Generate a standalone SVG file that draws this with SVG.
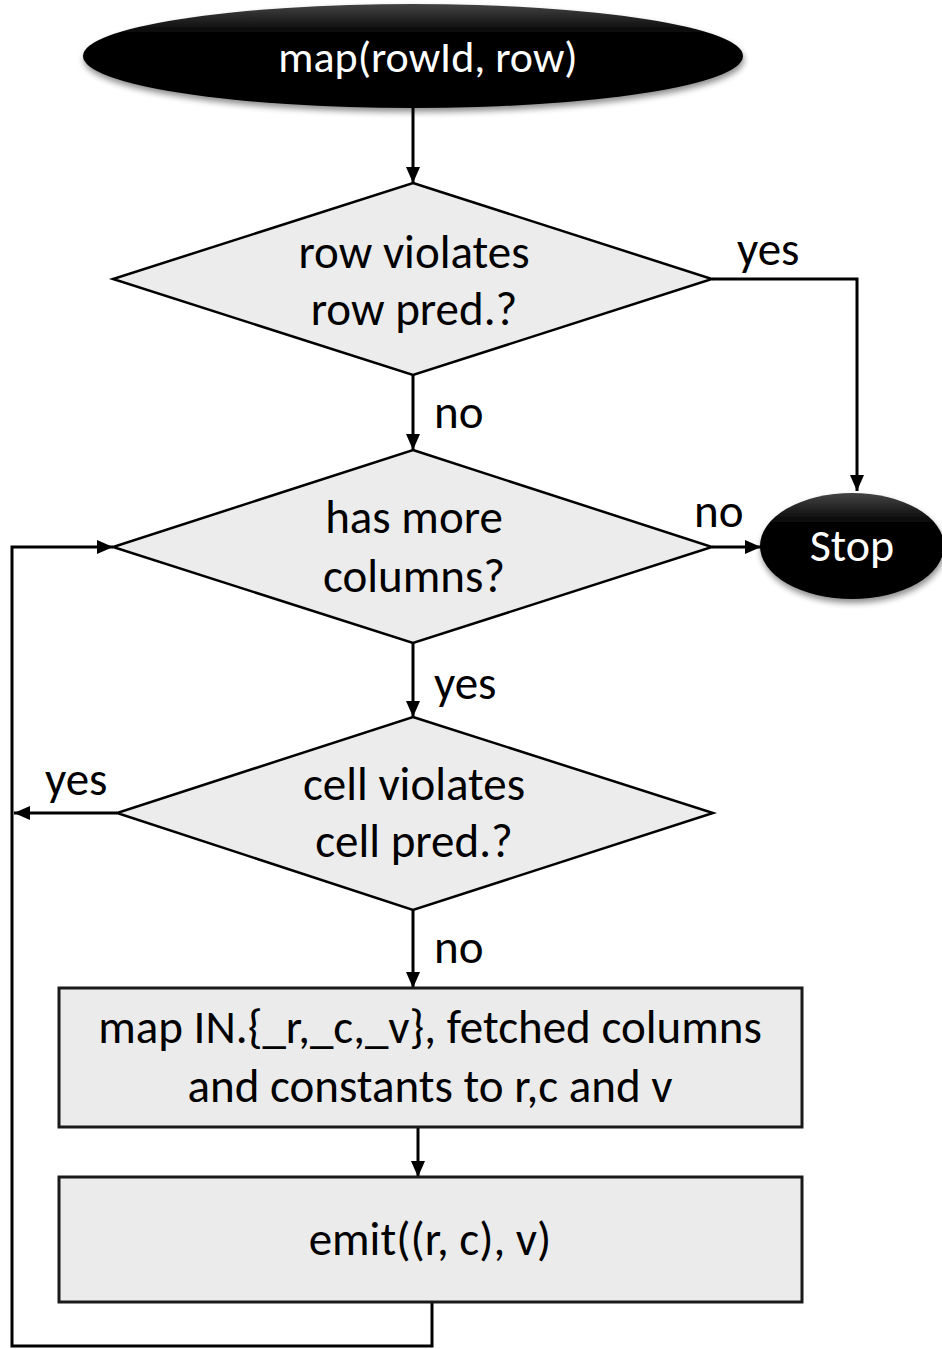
<svg xmlns="http://www.w3.org/2000/svg" width="942" height="1349" viewBox="0 0 942 1349">
<defs>
<linearGradient id="term" x1="0" y1="0" x2="0" y2="1">
<stop offset="0" stop-color="#444"/>
<stop offset="0.3" stop-color="#000"/>
<stop offset="1" stop-color="#000"/>
</linearGradient>
<filter id="shadow" x="-10%" y="-10%" width="120%" height="130%">
<feGaussianBlur in="SourceAlpha" stdDeviation="3"/>
<feOffset dx="1" dy="4" result="b"/>
<feComponentTransfer><feFuncA type="linear" slope="0.45"/></feComponentTransfer>
<feMerge><feMergeNode/><feMergeNode in="SourceGraphic"/></feMerge>
</filter>
<marker id="arrow" markerUnits="userSpaceOnUse" markerWidth="18" markerHeight="16" refX="16" refY="8" orient="auto">
<path d="M0,1 L16,8 L0,15 Z" fill="#000"/>
</marker>
</defs>
<style>
.term{fill:url(#term);filter:url(#shadow)}
.dec{fill:#ECECEC;stroke:#000;stroke-width:2.5}
.proc{fill:#EBEBEB;stroke:#1a1a1a;stroke-width:3}
.t{font-family:Carlito,Lato,"Liberation Sans",sans-serif;font-size:47px;fill:#000;text-anchor:middle}
.w{fill:#fff}
.lbl{font-family:Carlito,Lato,"Liberation Sans",sans-serif;font-size:47px;fill:#000}
.c{fill:none;stroke:#000;stroke-width:3}
</style>
<g id="connectors">
<line class="c" x1="413" y1="108" x2="413" y2="183" marker-end="url(#arrow)"/>
<polyline class="c" points="712,279 857,279 857,491" marker-end="url(#arrow)"/>
<line class="c" x1="413" y1="375" x2="413" y2="450" marker-end="url(#arrow)"/>
<line class="c" x1="712" y1="547" x2="761" y2="547" marker-end="url(#arrow)"/>
<line class="c" x1="413" y1="643" x2="413" y2="717" marker-end="url(#arrow)"/>
<line class="c" x1="117" y1="813" x2="14" y2="813" marker-end="url(#arrow)"/>
<line class="c" x1="413" y1="910" x2="413" y2="988" marker-end="url(#arrow)"/>
<line class="c" x1="418" y1="1127" x2="418" y2="1177" marker-end="url(#arrow)"/>
<polyline class="c" points="432,1302 432,1346 12,1346 12,547 113,547" marker-end="url(#arrow)"/>
<text class="lbl" x="737" y="265">yes</text>
<text class="lbl" x="434" y="428">no</text>
<text class="lbl" x="694" y="527">no</text>
<text class="lbl" x="434" y="699">yes</text>
<text class="lbl" x="45" y="795">yes</text>
<text class="lbl" x="434" y="963">no</text>
</g>
<g id="start">
<ellipse class="term" cx="413" cy="56" rx="330" ry="52"/>
<text class="t w" x="428" y="72" style="font-size:44px">map(rowId, row)</text>
</g>
<g id="rowPred">
<polygon class="dec" points="413,183 712,279 413,375 113,279"/>
<text class="t" x="414" y="268">row violates</text>
<text class="t" x="414" y="325">row pred.?</text>
</g>
<g id="stop">
<ellipse class="term" cx="852" cy="546" rx="92" ry="53"/>
<text class="t w" x="852" y="561" style="font-size:46px">Stop</text>
</g>
<g id="moreCols">
<polygon class="dec" points="413,450 712,547 413,643 113,547"/>
<text class="t" x="414" y="533">has more</text>
<text class="t" x="414" y="592">columns?</text>
</g>
<g id="cellPred">
<polygon class="dec" points="413,717 713,813 413,910 117,813"/>
<text class="t" x="414" y="800">cell violates</text>
<text class="t" x="414" y="857">cell pred.?</text>
</g>
<g id="mapBox">
<rect class="proc" x="59" y="988" width="743" height="139"/>
<text class="t" x="430" y="1043">map IN.{_r,_c,_v}, fetched columns</text>
<text class="t" x="430" y="1102">and constants to r,c and v</text>
</g>
<g id="emitBox">
<rect class="proc" x="59" y="1177" width="743" height="125"/>
<text class="t" x="430" y="1255">emit((r, c), v)</text>
</g>
</svg>
